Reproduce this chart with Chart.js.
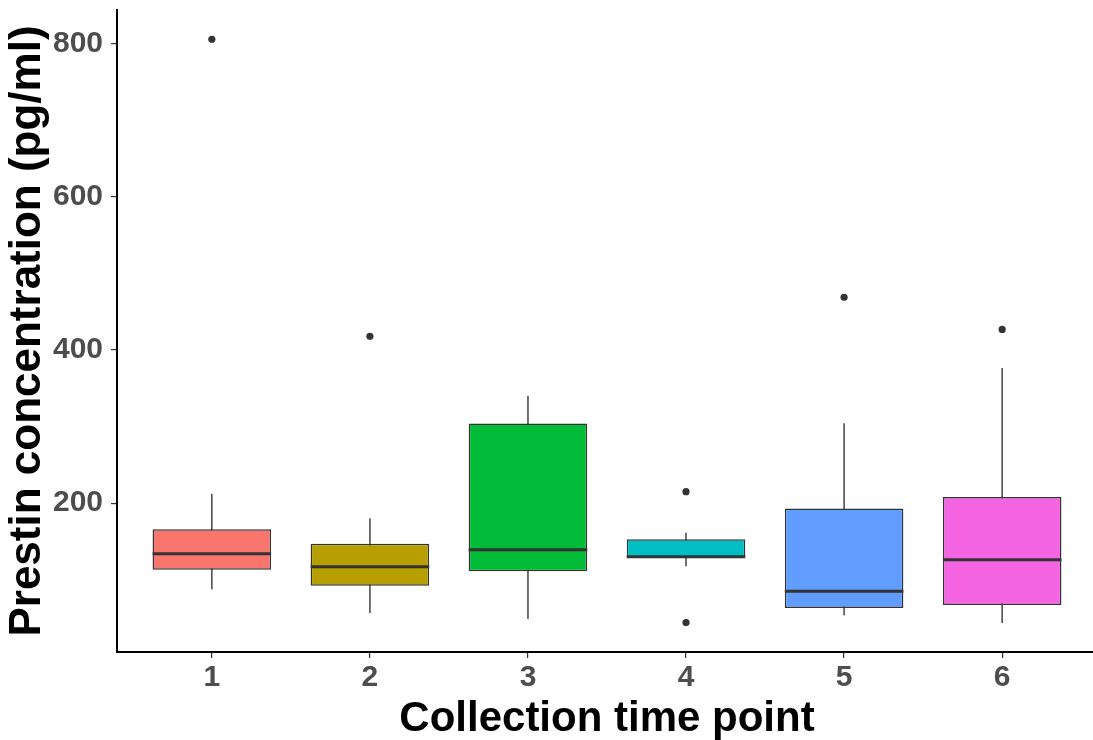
<!DOCTYPE html>
<html>
<head>
<meta charset="utf-8">
<script src="https://cdn.jsdelivr.net/npm/chart.js@4/dist/chart.umd.min.js"></script>
<style>
  html, body { margin: 0; padding: 0; background: #fff; overflow: hidden; }
  #wrap { width: 1101px; height: 740px; }
</style>
</head>
<body>
<div id="wrap"><canvas id="c" width="1101" height="740"></canvas></div>
<script>
// Time points and box-plot summaries (pg/ml)
const categories = ['1', '2', '3', '4', '5', '6'];
const lowerWhisker = [88, 57, 49, 118, 54, 44];
const q1 = [113, 92, 111, 129, 63, 67];
const median = [134, 117, 139, 130, 85, 126];
const q3 = [166, 147, 304, 153, 193, 208];
const upperWhisker = [212, 180, 340, 161, 304, 376];
const outliers = [[806], [418], [], [215, 44], [469], [427]];
const yTicks = [200, 400, 600, 800];
const boxColors = ['#F8766D', '#B79F00', '#00BA38', '#00BFC4', '#619CFF', '#F564E3'];

const FONT = "'Liberation Sans', Arial, sans-serif";
const BOX_WIDTH = 0.75;           // box width as a fraction of one category step
const pos = categories.map((c, i) => i + 1);

const boxes = pos.map((x, i) => ({ x, y: [q1[i], q3[i]] }));
const whiskers = pos.map((x, i) => ({ x, y: [lowerWhisker[i], upperWhisker[i]] }));
const outlierPts = [];
outliers.forEach((vals, i) => vals.forEach(v => outlierPts.push({ x: pos[i], y: v })));

// median bars across each box, positioned with the chart scales
const medianLines = {
  id: 'medianLines',
  afterDatasetsDraw(chart) {
    const { ctx, scales: { x, y } } = chart;
    ctx.save();
    ctx.strokeStyle = '#333333';
    ctx.lineWidth = 3;
    ctx.lineCap = 'butt';
    median.forEach((m, i) => {
      const yy = y.getPixelForValue(m);
      ctx.beginPath();
      ctx.moveTo(x.getPixelForValue(pos[i] - BOX_WIDTH / 2), yy);
      ctx.lineTo(x.getPixelForValue(pos[i] + BOX_WIDTH / 2), yy);
      ctx.stroke();
    });
    ctx.restore();
  }
};

// drop the half-label padding so the panel spans the full height
const noPad = s => { s.paddingTop = 0; s.paddingBottom = 0; s.paddingLeft = 0; s.paddingRight = 0; };

new Chart(document.getElementById('c'), {
  type: 'bar',
  plugins: [medianLines],
  data: {
    datasets: [
      {
        type: 'bar',
        data: boxes,
        grouped: false,
        barPercentage: BOX_WIDTH,
        categoryPercentage: 1,
        backgroundColor: boxColors,
        borderColor: '#333333',
        borderWidth: 1.5,
        borderSkipped: false,
        order: 1
      },
      {
        type: 'bar',
        data: whiskers,
        grouped: false,
        barThickness: 1,
        backgroundColor: '#555555',
        borderWidth: 0,
        order: 3
      },
      {
        type: 'line',
        data: outlierPts,
        showLine: false,
        pointRadius: 3.6,
        pointBackgroundColor: '#333333',
        pointBorderWidth: 0,
        order: 0
      }
    ]
  },
  options: {
    responsive: false,
    animation: false,
    events: [],
    layout: { padding: { top: 10, left: 0, right: 0, bottom: 0 } },
    plugins: { legend: { display: false }, tooltip: { enabled: false } },
    scales: {
      x: {
        type: 'linear',
        min: 0.4,
        max: 6.6,
        offset: false,
        afterBuildTicks: s => { s.ticks = pos.map(v => ({ value: v })); },
        afterFit: s => { s.height = 88; noPad(s); },
        ticks: {
          callback: v => categories[v - 1],
          color: '#4d4d4d',
          font: { family: FONT, size: 30, weight: 'bold' },
          padding: 2,
          maxRotation: 0,
          autoSkip: false
        },
        grid: { offset: false, drawOnChartArea: false, drawTicks: true, tickLength: 6, tickColor: '#333333', lineWidth: 1.2 },
        border: { display: true, color: '#000000', width: 2 },
        title: {
          display: true,
          text: 'Collection time point',
          color: '#000000',
          font: { family: FONT, size: 42, weight: 'bold', lineHeight: 1 },
          padding: { top: 0, bottom: 0 }
        }
      },
      y: {
        type: 'linear',
        min: 5.6,
        max: 844.2,
        afterBuildTicks: s => { s.ticks = yTicks.map(v => ({ value: v })); },
        afterFit: s => { s.width = 117; noPad(s); },
        ticks: {
          color: '#4d4d4d',
          font: { family: FONT, size: 30, weight: 'bold' },
          padding: 8
        },
        grid: { offset: false, drawOnChartArea: false, drawTicks: true, tickLength: 6, tickColor: '#333333', lineWidth: 1.2 },
        border: { display: true, color: '#000000', width: 2 },
        title: {
          display: true,
          text: 'Prestin concentration (pg/ml)',
          color: '#000000',
          font: { family: FONT, size: 44, weight: 'bold', lineHeight: 1 },
          padding: { top: 6, bottom: 0 }
        }
      }
    }
  }
});
</script>
</body>
</html>
